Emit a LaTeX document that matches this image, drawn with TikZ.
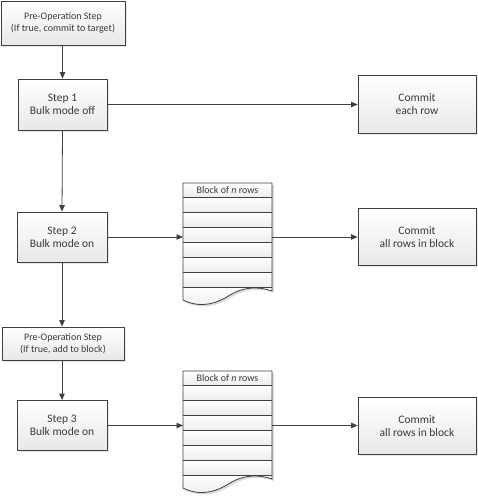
\documentclass[tikz,border=0pt]{standalone}
\usepackage{fontspec}
\setmainfont{Carlito}
\usetikzlibrary{shadows,arrows.meta}
\definecolor{ln}{HTML}{404040}
\definecolor{tx}{HTML}{3A3A3A}
\tikzset{
  boxbase/.style={draw=ln, line width=0.8pt, top color=white, bottom color=black!9,
    drop shadow={shadow xshift=1.6pt, shadow yshift=-1.6pt, opacity=0.2},
    text=tx, align=center, inner sep=0pt},
  prebox/.style={boxbase, font=\fontsize{10}{12.3}\selectfont},
  stepbox/.style={boxbase, font=\fontsize{11.5}{13.3}\selectfont},
  conn/.style={draw=ln, line width=0.8pt, -{Triangle[length=6.5pt,width=5.5pt]}},
  rowcell/.style={top color=white, bottom color=black!7},
}
\newcommand\docblock[2]{%
  \node[inner sep=0pt, minimum width=89pt, minimum height=117pt, anchor=north west] (#1) at (183,#2) {};
  \begin{scope}[shift={(183,#2)}]
    \fill[black!14] (2,2) -- (91,2) -- (91,110) .. controls (77,105) and (62,106) .. (49,114)
      .. controls (37,122) and (20,128) .. (2,119) -- cycle;
    \shade[rowcell] (0,0) rectangle (89,14);
    \foreach \i in {0,...,5} {\shade[rowcell] (0,14+15*\i) rectangle (89,29+15*\i);}
    \shade[rowcell] (0,104) -- (89,104) -- (89,108) .. controls (75,103) and (60,104) .. (47,112)
      .. controls (35,120) and (18,126) .. (0,117) -- cycle;
    \draw[ln, line width=0.8pt] (0,0) -- (89,0) -- (89,108) .. controls (75,103) and (60,104) .. (47,112)
      .. controls (35,120) and (18,126) .. (0,117) -- cycle;
    \foreach \y in {14,29,...,104} {\draw[ln, line width=0.8pt] (0,\y) -- (89,\y);}
    \node[text=tx, font=\fontsize{10}{12}\selectfont, inner sep=0pt] (#1h) at (44.5,7.5) {Block of \textit{n} rows};
  \end{scope}}
\begin{document}
\begin{tikzpicture}[x=1pt, y=-1pt]
  \useasboundingbox (0,0) rectangle (478,500);
  \node[prebox, minimum width=124pt, minimum height=44pt] (pre1) at (63,23) {Pre-Operation Step\\(If true, commit to target)};
  \node[stepbox, minimum width=89pt, minimum height=51pt] (s1) at (62.5,104.5) {Step 1\\Bulk mode off};
  \node[stepbox, minimum width=118pt, minimum height=58pt] (c1) at (417,104) {Commit\\each row};
  \node[stepbox, minimum width=90pt, minimum height=50pt] (s2) at (62,237) {Step 2\\Bulk mode on};
  \node[stepbox, minimum width=118pt, minimum height=57pt] (c2) at (417,237) {Commit\\all rows in block};
  \node[prebox, minimum width=122pt, minimum height=33pt] (pre2) at (63,343.5) {Pre-Operation Step\\(If true, add to block)};
  \node[stepbox, minimum width=90pt, minimum height=50pt] (s3) at (62,425.5) {Step 3\\Bulk mode on};
  \node[stepbox, minimum width=118pt, minimum height=57pt] (c3) at (417,426) {Commit\\all rows in block};
  \docblock{b1}{183}
  \docblock{b2}{371}
  \draw[conn] (pre1.south -| s1.north) -- (s1.north);
  \draw[conn] (s1.south) -- (s2.north);
  \draw[conn] (s2.south) -- (s2.south |- pre2.north);
  \draw[conn] (s3.north |- pre2.south) -- (s3.north);
  \draw[conn] (s1.east) -- (s1.east -| c1.west);
  \draw[conn] (s2.east) -- (s2.east -| b1.west);
  \draw[conn] (s2.east -| b1.east) -- (s2.east -| c2.west);
  \draw[conn] (s3.east) -- (s3.east -| b2.west);
  \draw[conn] (s3.east -| b2.east) -- (s3.east -| c3.west);
\end{tikzpicture}
\end{document}
